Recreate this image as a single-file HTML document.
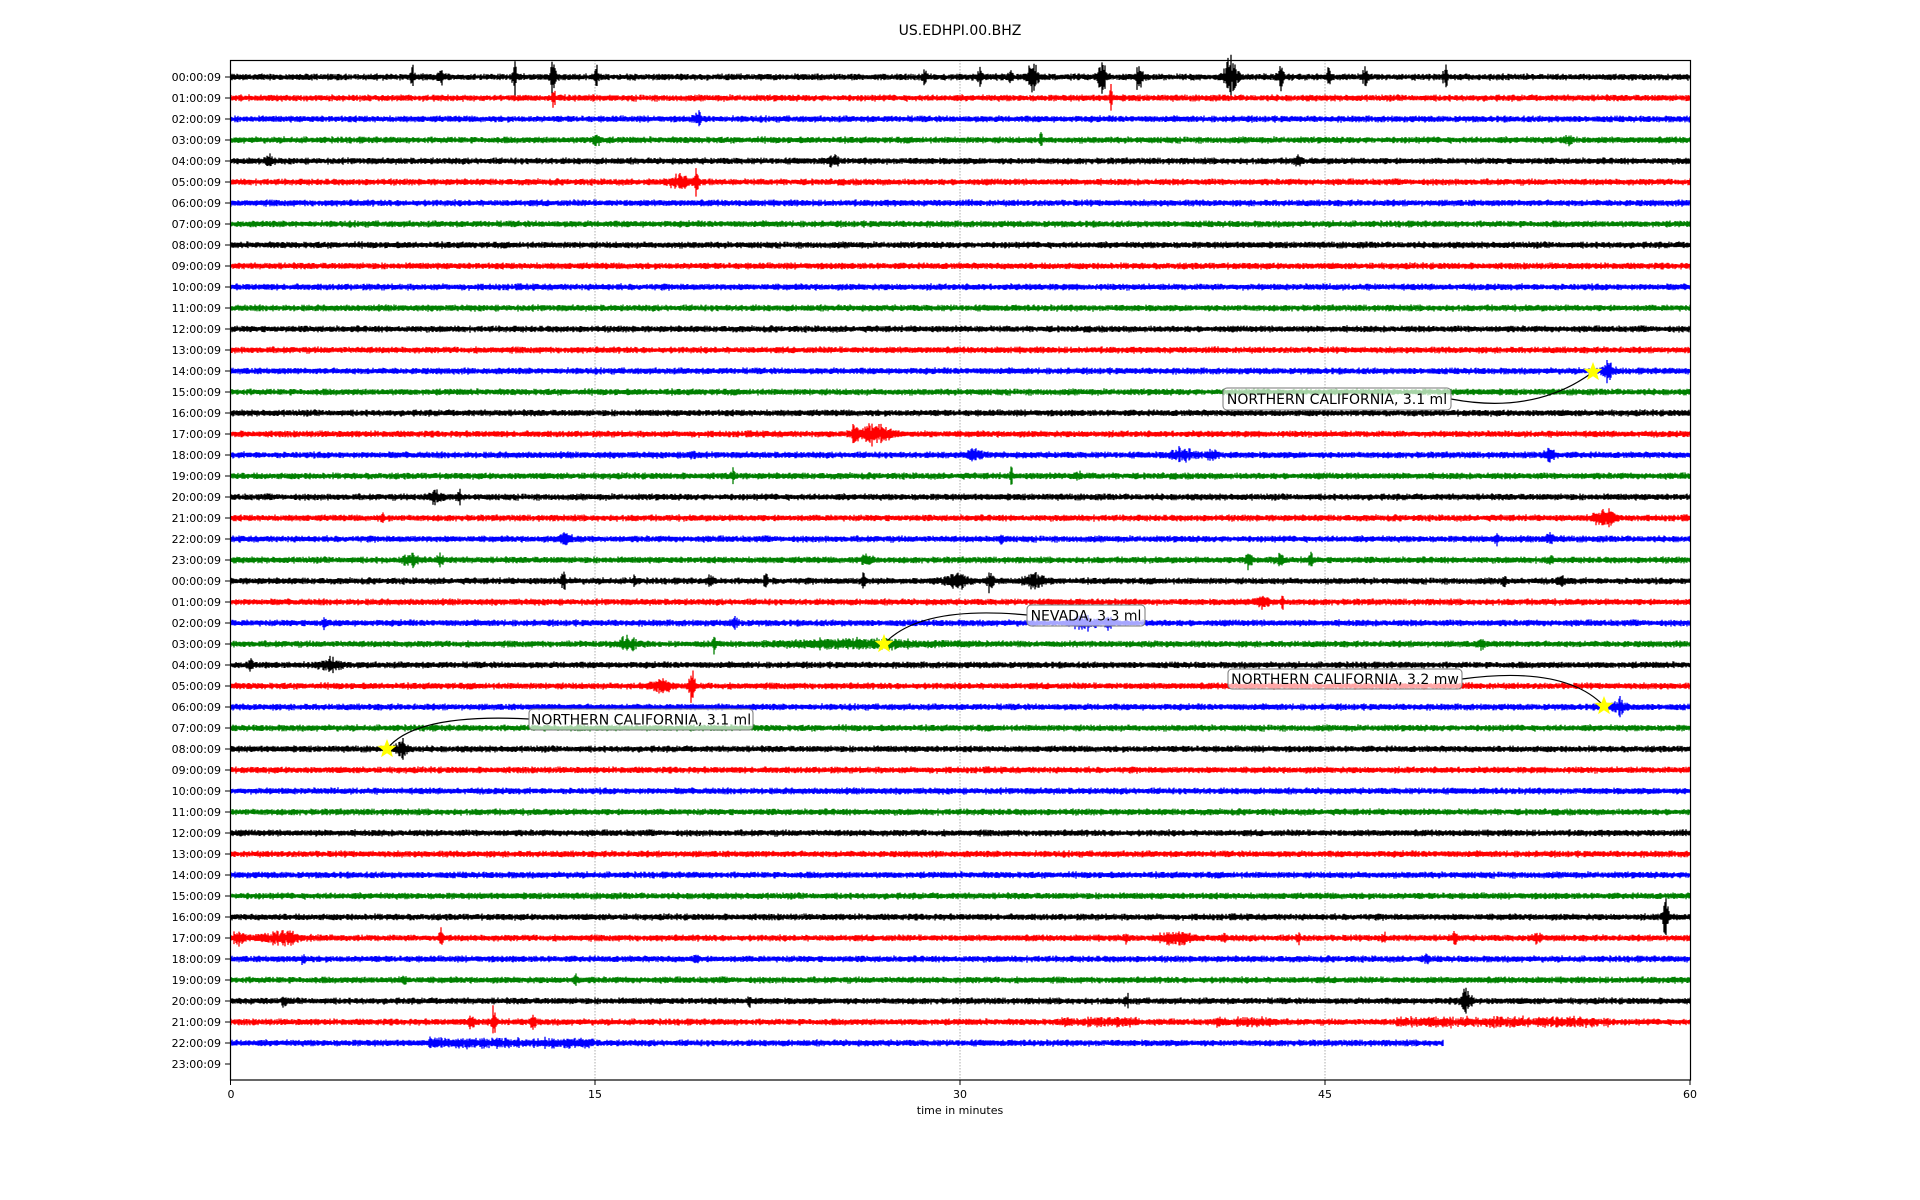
<!DOCTYPE html>
<html><head><meta charset="utf-8"><style>
html,body{margin:0;padding:0;background:#fff;}
svg{display:block;}
text{font-family:"DejaVu Sans","Liberation Sans",sans-serif;}
</style></head><body>
<svg id="s" width="1920" height="1200" viewBox="0 0 1920 1200" xmlns="http://www.w3.org/2000/svg">
<rect width="1920" height="1200" fill="#fff"/>
<text x="960" y="35" font-size="14" text-anchor="middle">US.EDHPI.00.BHZ</text>
<g stroke="#999" stroke-width="0.8" stroke-dasharray="1.5,1.5">
<line x1="595" y1="60" x2="595" y2="1080"/><line x1="960" y1="60" x2="960" y2="1080"/><line x1="1325" y1="60" x2="1325" y2="1080"/>
</g>
<g id="traces"></g>
<g id="ann"></g>
<rect x="230.5" y="60.5" width="1460" height="1019.5" fill="none" stroke="#000" stroke-width="1.2"/>
<g id="ticks" font-size="11"></g>
<g font-size="11" text-anchor="middle">
<line x1="230.5" y1="1080" x2="230.5" y2="1085" stroke="#000"/><text x="231" y="1098">0</text>
<line x1="595" y1="1080" x2="595" y2="1085" stroke="#000"/><text x="595" y="1098">15</text>
<line x1="960" y1="1080" x2="960" y2="1085" stroke="#000"/><text x="960" y="1098">30</text>
<line x1="1325" y1="1080" x2="1325" y2="1085" stroke="#000"/><text x="1325" y="1098">45</text>
<line x1="1690" y1="1080" x2="1690" y2="1085" stroke="#000"/><text x="1690" y="1098">60</text>
<text x="960" y="1114">time in minutes</text>
</g>
</svg>
<script>
(function(){
var NS="http://www.w3.org/2000/svg";
var seed=12345;function r(){seed=(seed*1103515245+12345)%2147483648;return seed/2147483648;}
var cols=["#000000","#ff0000","#0000ff","#008000"];
var S=1.2248;
var ev={
0:[[337,8,4],[360,6,6],[420,14,4],[452,18,6],[487,10,4],[755,6,4],[800,8,4],[825,12,3],[843,12,10],[900,16,8],[930,14,6],[1005,18,12],[1045,10,6],[1085,12,3],[1115,8,6],[1180,10,4]],
1:[[452,12,2],[907,14,2]],2:[[570,5,8]],3:[[487,7,6],[850,10,2],[1280,5,8]],
4:[[220,4,8],[680,4,12],[1060,4,6]],5:[[555,6,20],[568,14,4]],
14:[[1312,8,12]],
17:[[698,14,6],[715,8,30]],18:[[565,4,6],[795,5,15],[965,6,20],[990,5,10],[1265,8,8]],
19:[[598,5,4],[826,8,3],[880,4,6]],20:[[355,5,15],[375,6,4]],21:[[312,3,4],[1310,8,20]],
22:[[462,6,10],[818,5,4],[1222,5,4],[1265,4,8]],
23:[[335,5,15],[360,5,6],[708,6,10],[1020,10,6],[1045,6,8],[1070,8,4],[1265,4,6]],
24:[[460,10,4],[518,6,3],[580,5,6],[625,6,4],[705,8,4],[780,8,20],[808,10,6],[845,6,20],[1228,4,4],[1275,5,6]],
25:[[1030,5,15],[1047,8,3]],26:[[265,5,4],[600,5,6],[885,6,20],[905,6,6]],
27:[[512,6,20],[583,8,4],[700,3,150],[1210,4,6]],28:[[205,5,4],[270,5,20]],29:[[540,5,20],[565,14,6]],
30:[[1322,7,12]],32:[[328,8,12]],40:[[1360,18,6]],
41:[[195,8,10],[230,5,40],[360,8,4],[920,4,4],[960,5,30],[1000,4,4],[1060,4,4],[1130,4,4],[1188,6,4],[1255,4,10]],
42:[[248,5,4],[568,4,4],[1165,5,4]],43:[[330,4,4],[470,5,4]],
44:[[232,6,4],[612,4,4],[920,5,4],[1197,10,10]],45:[[385,10,6],[403,14,4],[435,10,4]]
};
var bursts={45:[[865,930,3],[993,1045,3],[1140,1315,3.5]],46:[[350,485,3]]};
var g=document.getElementById("traces");
for(var i=0;i<47;i++){
 var y=77+21*i, d="", end=(i==46)?1443:1690;
 var E=(ev[i]||[]).map(function(e){return [e[0]*S,e[1]*1.3,Math.max(1.2,e[2]*0.5)];});
 var B=(bursts[i]||[]).map(function(b){return [b[0]*S,b[1]*S,b[2]];});
 for(var x=231;x<=end;x+=1){
  var a=2.2+r()*1.6;
  for(var k=0;k<E.length;k++){var dx=(x-E[k][0])/E[k][2];if(Math.abs(dx)<4){var env=Math.exp(-dx*dx);a+=E[k][1]*env*(0.2+0.8*r());}}
  for(var k=0;k<B.length;k++){if(x>=B[k][0]&&x<=B[k][1])a+=B[k][2]*r();}
  var up=a*(0.5+0.5*r()),dn=a*(0.5+0.5*r());
  d+="M"+x+" "+(y-up).toFixed(1)+"V"+(y+dn).toFixed(1);
 }
 var p=document.createElementNS(NS,"path");p.setAttribute("d",d);p.setAttribute("stroke",cols[i%4]);p.setAttribute("stroke-width","1.3");p.setAttribute("fill","none");g.appendChild(p);
}
var t=document.getElementById("ticks");
for(var i=0;i<48;i++){var y=77+21*i;var h=(i%24);var s=(h<10?"0":"")+h+":00:09";
 var l=document.createElementNS(NS,"line");l.setAttribute("x1",225);l.setAttribute("x2",230);l.setAttribute("y1",y);l.setAttribute("y2",y);l.setAttribute("stroke","#000");t.appendChild(l);
 var tx=document.createElementNS(NS,"text");tx.setAttribute("x",221);tx.setAttribute("y",y+4);tx.setAttribute("text-anchor","end");tx.textContent=s;t.appendChild(tx);}
var an=document.getElementById("ann");
function star(cx,cy,R){var pts=[];for(var k=0;k<10;k++){var rr=k%2?R*0.42:R;var ang=-Math.PI/2+k*Math.PI/5;pts.push((cx+rr*Math.cos(ang)).toFixed(1)+","+(cy+rr*Math.sin(ang)).toFixed(1));}
 var p=document.createElementNS(NS,"polygon");p.setAttribute("points",pts.join(" "));p.setAttribute("fill","#ffff00");an.appendChild(p);}
function box(x1,y1,x2,y2,txt,curve){
 var c=document.createElementNS(NS,"path");c.setAttribute("d",curve);c.setAttribute("stroke","#000");c.setAttribute("fill","none");c.setAttribute("stroke-width","1.2");an.appendChild(c);
 var b=document.createElementNS(NS,"rect");b.setAttribute("x",x1);b.setAttribute("y",y1);b.setAttribute("width",x2-x1);b.setAttribute("height",y2-y1);b.setAttribute("rx",4);b.setAttribute("fill","#fff");b.setAttribute("fill-opacity","0.65");b.setAttribute("stroke","#777");an.appendChild(b);
 var tx=document.createElementNS(NS,"text");tx.setAttribute("x",(x1+x2)/2);tx.setAttribute("y",(y1+y2)/2+5);tx.setAttribute("text-anchor","middle");tx.setAttribute("font-size","14");tx.textContent=txt;an.appendChild(tx);}
box(1223,388,1451,410,"NORTHERN CALIFORNIA, 3.1 ml","M1451 399 Q1535 415 1593 372");
box(1027,605,1145,626,"NEVADA, 3.3 ml","M1027 615 Q920 605 884 644");
box(1228,669,1462,689,"NORTHERN CALIFORNIA, 3.2 mw","M1462 679 Q1565 665 1604 706");
box(529,709,753,730,"NORTHERN CALIFORNIA, 3.1 ml","M529 719 Q415 713 387 749");
star(1593,372,10);star(884,644,10);star(1604,706,10);star(387,749,10);
})();
</script>
</body></html>
